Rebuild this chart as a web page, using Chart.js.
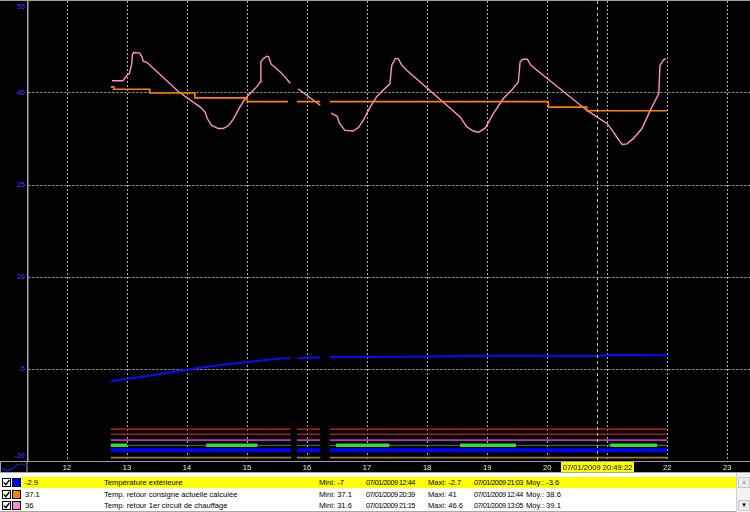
<!DOCTYPE html>
<html><head><meta charset="utf-8">
<script src="https://cdn.jsdelivr.net/npm/chart.js@4/dist/chart.umd.min.js"></script>
<style>
html,body{margin:0;padding:0;background:#000;width:750px;height:512px;overflow:hidden;font-family:"Liberation Sans",Arial,sans-serif;}
#wrap{position:relative;width:750px;height:512px;}
#c{position:absolute;left:0;top:0;}
#legend{position:absolute;left:0;top:472px;width:750px;height:40px;background:#fff;border-top:1px solid #a8a8a8;box-sizing:border-box;}
.row{position:absolute;left:0;width:736px;height:11px;}
.cb{position:absolute;left:2px;top:1px;width:7px;height:7px;border:1px solid #000;background:#fff;}
.cb svg{position:absolute;left:0;top:0;}
.sw{position:absolute;left:12px;top:1px;width:7px;height:7px;border:1px solid #000;}
.bg{position:absolute;left:22px;top:0;right:0;height:11px;}
.row span{position:absolute;top:0;line-height:11px;font-size:7.6px;white-space:nowrap;color:#000;}
.row span.d{font-size:7.3px;letter-spacing:-0.5px;}
#sb{position:absolute;left:736px;top:0;width:14px;height:39px;background:#f2f2f2;border-left:1px solid #d0d0d0;box-sizing:border-box;}
.btn{position:absolute;left:1px;width:12px;height:11px;background:#ececec;border:1px solid #c8c8c8;box-sizing:border-box;font-size:6px;line-height:9px;text-align:center;}
#bottomline{position:absolute;left:0;top:38px;width:736px;height:1px;background:#a8a8a8;}
</style>
</head><body>
<div id="wrap">
<canvas id="c" width="750" height="472"></canvas>
<div id="legend"><div id="sb"><div class="btn" style="top:4px;color:#a8a8a8">&#9650;</div><div class="btn" style="top:27px;color:#000">&#9660;</div></div><div id="bottomline"></div></div>
</div>
<script>
// ---- axis ticks ----
const hourTicks = [12,13,14,15,16,17,18,19,20,21,22,23];
const valueTicks = [-20,-5,10,25,40,55];
const cursorTime = 20.8228;
const cursorLabel = '07/01/2009 20:49:22';

// ---- Température extérieure (blue) ----
const blueTimes  = [12.73,13.0,13.38,13.8,14.22,14.6,15.05,15.55,15.72,15.78,15.85,16.22,16.3,16.38,17.55,19.22,20.82,21.05,22.0];
const blueValues = [-7.0,-6.6,-6.1,-5.4,-4.8,-4.3,-3.8,-3.3,-3.25,null,-3.2,-3.1,null,-3.05,-3.0,-2.85,-2.9,-2.7,-2.75];

// ---- Temp. retour consigne actuelle calculée (orange, stepped) ----
const orangeTimes  = [12.73,12.78,13.38,14.13,15.0,15.68,15.73,15.83,16.22,16.3,16.38,20.02,20.66,22.0];
const orangeValues = [41.0,40.6,40.0,39.2,38.6,38.6,null,38.6,38.6,null,38.6,37.7,37.1,37.1];

// ---- Temp. retour 1er circuit de chauffage (pink) ----
const pinkTimes = [12.75,12.93,13.0,13.04,13.08,13.09,13.11,13.21,13.25,13.27,13.33,13.86,14.22,14.30,14.34,14.41,14.52,14.60,14.69,14.77,14.88,14.97,15.05,15.16,15.22,15.23,15.27,15.33,15.36,15.40,15.44,15.58,15.72,15.78,15.85,16.0,16.22,16.3,16.4,16.5,16.54,16.63,16.77,16.86,16.94,17.05,17.16,17.27,17.38,17.41,17.47,17.52,17.58,17.66,18.55,18.66,18.77,18.86,18.97,19.1,19.27,19.41,19.52,19.55,19.6,19.67,19.73,19.83,20.66,21.0,21.08,21.16,21.25,21.33,21.44,21.58,21.72,21.86,21.88,21.94,21.98];
const pinkValues = [42.0,42.0,42.9,43.2,44.8,46.3,46.6,46.5,45.9,45.2,45.0,40.2,37.7,36.9,35.8,34.7,34.2,34.2,34.7,35.7,37.7,39.1,39.9,41.0,41.8,45.1,45.6,46.0,45.9,44.7,44.4,43.2,41.6,null,40.7,39.6,38.0,null,36.7,36.2,35.1,33.9,33.8,34.4,35.6,37.7,39.4,40.5,41.5,44.5,45.6,45.6,44.5,43.7,36.1,34.5,33.8,33.6,34.3,36.6,39.1,40.5,41.8,45.1,45.5,45.5,44.5,43.7,37.2,35.0,34.0,32.8,31.6,31.7,32.6,34.2,37.2,39.9,44.5,45.4,45.6];

// ---- status lines at the bottom ----
const statusTimes   = [12.73,15.73,15.78,15.83,16.22,16.3,16.38,22.0];
const statusRed1    = [-14.8,-14.8,null,-14.8,-14.8,null,-14.8,-14.8];
const statusRed2    = [-15.65,-15.65,null,-15.65,-15.65,null,-15.65,-15.65];
const statusMagenta = [-16.6,-16.6,null,-16.6,-16.6,null,-16.6,-16.6];
const statusGreen   = [-17.45,-17.45,null,-17.45,-17.45,null,-17.45,-17.45];
const statusBlue    = [-18.25,-18.25,null,-18.25,-18.25,null,-18.25,-18.25];
const statusOlive   = [-19.45,-19.45,null,-19.45,-19.45,null,-19.45,-19.45];
const greenOnTimes  = [12.73,13.0,13.1,14.32,15.17,15.3,16.48,17.37,17.5,18.55,19.48,19.6,21.05,21.83];
const greenOnValues = [-17.45,-17.45,null,-17.45,-17.45,null,-17.45,-17.45,null,-17.45,-17.45,null,-17.45,-17.45];

// ---- legend table ----
const seriesColors  = ['#0000ff','#ff8000','#ff8cc8'];
const legendValues  = ['-2.9','37.1','36'];
const legendNames   = ['Température extérieure','Temp. retour consigne actuelle calculée','Temp. retour 1er circuit de chauffage'];
const legendMins    = ['-7','37.1','31.6'];
const legendMinTimes= ['07/01/2009 12:44','07/01/2009 20:39','07/01/2009 21:15'];
const legendMaxs    = ['-2.7','41','46.6'];
const legendMaxTimes= ['07/01/2009 21:03','07/01/2009 12:44','07/01/2009 13:05'];
const legendMeans   = ['-3.6','38.6','39.1'];

const pts = (t, v) => t.map((x, i) => ({x: x, y: v[i]}));

const lg = document.getElementById('legend');
const rowTops = [4, 15.5, 27];
for (let i = 0; i < 3; i++) {
  const r = document.createElement('div');
  r.className = 'row';
  r.style.top = rowTops[i] + 'px';
  r.innerHTML =
    '<div class="cb"><svg width="7" height="7"><polyline points="0.8,3.4 2.8,5.6 6.4,1" fill="none" stroke="#000" stroke-width="1.4"/></svg></div>' +
    '<div class="sw" style="background:' + seriesColors[i] + '"></div>' +
    '<div class="bg" style="background:' + (i === 0 ? '#ffff00' : '#fff') + '"></div>' +
    '<span style="left:25px">' + legendValues[i] + '</span>' +
    '<span style="left:104px">' + legendNames[i] + '</span>' +
    '<span style="left:319px">Mini: ' + legendMins[i] + '</span>' +
    '<span class="d" style="left:366px">' + legendMinTimes[i] + '</span>' +
    '<span style="left:428px">Maxi: ' + legendMaxs[i] + '</span>' +
    '<span class="d" style="left:474px">' + legendMaxTimes[i] + '</span>' +
    '<span style="left:526px">Moy.: ' + legendMeans[i] + '</span>';
  lg.appendChild(r);
}

const decor = {
  id: 'decor',
  beforeDraw(chart) {
    const {ctx, width, height} = chart;
    ctx.save(); ctx.fillStyle = '#000'; ctx.fillRect(0, 0, width, height); ctx.restore();
  },
  afterDraw(chart) {
    const {ctx, chartArea: a, scales: {x, y}} = chart;
    ctx.save();
    // top frame line
    ctx.strokeStyle = '#a0a0a0'; ctx.lineWidth = 1;
    ctx.beginPath(); ctx.moveTo(0, 0.5); ctx.lineTo(a.right, 0.5); ctx.stroke();
    // y labels (clamped inside)
    ctx.fillStyle = '#2a2ae0';
    ctx.font = 'bold 7.5px "Liberation Sans"';
    ctx.textAlign = 'right'; ctx.textBaseline = 'middle';
    y.ticks.forEach(t => {
      let py = y.getPixelForValue(t.value);
      py = Math.min(Math.max(py, 7), a.bottom - 5);
      ctx.fillText(String(t.value), a.left - 3, py);
    });
    // cursor
    const cx = Math.round(x.getPixelForValue(cursorTime)) + 0.5;
    ctx.strokeStyle = '#d8d820'; ctx.setLineDash([3, 3]);
    ctx.beginPath(); ctx.moveTo(cx, a.top); ctx.lineTo(cx, a.bottom); ctx.stroke();
    ctx.setLineDash([]);
    ctx.font = '7.6px "Liberation Sans"';
    const w = ctx.measureText(cursorLabel).width + 3;
    ctx.fillStyle = '#ffff00';
    ctx.fillRect(Math.round(cx - w / 2), a.bottom + 1, Math.round(w), 11);
    ctx.fillStyle = '#000'; ctx.textAlign = 'center'; ctx.textBaseline = 'middle';
    ctx.fillText(cursorLabel, cx, a.bottom + 6.5);
    // small icon box bottom-left
    ctx.strokeStyle = '#a0a0a0'; ctx.lineWidth = 1;
    ctx.strokeRect(0.5, a.bottom + 0.5, a.left - 1.5, 11);
    ctx.strokeStyle = '#1a1ae0'; ctx.lineWidth = 1.2;
    ctx.beginPath();
    ctx.moveTo(2, a.bottom + 7);
    ctx.quadraticCurveTo(7, a.bottom + 12, 13, a.bottom + 7);
    ctx.quadraticCurveTo(19, a.bottom + 1, 25, a.bottom + 4);
    ctx.stroke();
    ctx.restore();
  }
};

const line = (label, t, v, color, width, extra) => Object.assign({
  label: label, data: pts(t, v), borderColor: color, backgroundColor: color,
  borderWidth: width, pointRadius: 0, tension: 0, spanGaps: false, fill: false
}, extra || {});

new Chart(document.getElementById('c'), {
  type: 'line',
  data: {
    datasets: [
      line('Temp. retour consigne actuelle calculée', orangeTimes, orangeValues, '#ff8000', 1.6, {stepped: true}),
      line('Temp. retour 1er circuit de chauffage', pinkTimes, pinkValues, '#ff90cc', 1.4),
      line('Température extérieure', blueTimes, blueValues, '#0a0aff', 2),
      line('s-green-on', greenOnTimes, greenOnValues, '#30e030', 3.5),
      line('s-green', statusTimes, statusGreen, '#259a25', 1),
      line('s-blue', statusTimes, statusBlue, '#0000ff', 4),
      line('s-red1', statusTimes, statusRed1, '#9a1c1c', 1.6),
      line('s-red2', statusTimes, statusRed2, '#a01e1e', 1.6),
      line('s-mag', statusTimes, statusMagenta, '#c030c0', 1.6),
      line('s-olive', statusTimes, statusOlive, '#9c7c3c', 1.8)
    ]
  },
  options: {
    responsive: false, animation: false, devicePixelRatio: 1,
    layout: {padding: {top: 1, left: 0, right: 0, bottom: 0}},
    plugins: {legend: {display: false}, tooltip: {enabled: false}},
    scales: {
      x: {
        type: 'linear', min: 11.35, max: 23.38,
        afterBuildTicks: s => { s.ticks = hourTicks.map(v => ({value: v})); },
        afterFit: s => { s.height = 11; },
        grid: {color: '#b0b0b0', lineWidth: 1, drawTicks: false},
        border: {color: '#a0a0a0', width: 1, dash: [2, 2]},
        ticks: {color: '#f0f0f0', font: {size: 7.6, family: 'Liberation Sans'}, padding: 2, maxRotation: 0, autoSkip: false, callback: v => String(v)}
      },
      y: {
        type: 'linear', min: -20, max: 55,
        afterBuildTicks: s => { s.ticks = valueTicks.map(v => ({value: v})); },
        afterFit: s => { s.width = 28; },
        grid: {color: c => (c.tick && (c.tick.value === -20 || c.tick.value === 55)) ? 'rgba(0,0,0,0)' : '#b0b0b0', lineWidth: 1, drawTicks: false},
        border: {color: '#a8a8a8', width: 1.5, dash: [2, 2]},
        ticks: {display: false}
      }
    }
  },
  plugins: [decor]
});
</script>
</body></html>
